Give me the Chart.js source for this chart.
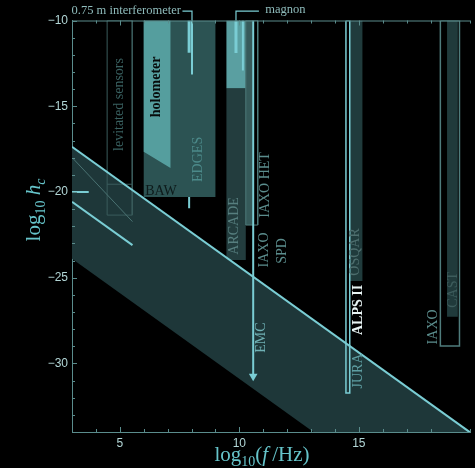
<!DOCTYPE html>
<html>
<head>
<meta charset="utf-8">
<script src="https://cdn.jsdelivr.net/npm/chart.js@4.4.1/dist/chart.umd.min.js"></script>
<style>
  html, body { margin: 0; padding: 0; background: #000; }
  #wrap { width: 475px; height: 468px; }
</style>
</head>
<body>
<div id="wrap"><canvas id="myChart"></canvas></div>
<script>
//Axis ticks (log10 f/Hz and log10 h_c).
const xTicks = [5, 10, 15];
const yTicks = [-10, -15, -20, -25, -30];

//Main sensitivity band (x, y corners).
const bandX = [3, 19.65, 13.1, 3];
const bandY = [-17.37, -34.02, -34, -23.9];
const bandEdgeX = [3, 19.65];
const bandEdgeY = [-17.37, -34.02];

//Experiments drawn as filled regions.
const bawX = [6.0, 9.0];
const bawY = [-10, -20.3];
const holometerX = [6.0, 7.12, 7.12, 6.0];
const holometerY = [-10, -10, -18.6, -17.65];
const arcadeX = [9.46, 10.27];
const arcadeY = [-13.95, -23.97];
const arcadeTopX = [9.46, 10.27];
const arcadeTopY = [-10, -13.95];
const hetStripX = [10.27, 10.56];
const hetStripY = [-10, -21.93];
const osqarX = [14.62, 15.15];
const osqarY = [-10, -25.2];
const castX = [18.69, 19.14];
const castY = [-10, -27.28];

//Experiments drawn as outlines.
const iaxoHetX = [10.27, 10.77];
const iaxoHetY = [-10, -21.93];
const iaxoX = [18.41, 19.21];
const iaxoY = [-10, -28.99];
const levitatedX = [4.47, 5.52];
const levitatedY = [-10, -21.35];
const levitatedBoxY = [-19.55, -19.55];
const alpsX = [14.46, 14.62];
const alpsY = [-10, -31.72];

//Single lines.
const levSlantX = [3.03, 5.53];
const levSlantY = [-18.03, -21.73];
const brightSlantX = [3.0, 5.53];
const brightSlantY = [-20.57, -23.1];
const flatX = [3.0, 3.7];
const flatY = [-20, -20];
const emcX = [10.58, 10.58];
const emcY = [-10, -30.75];
const interfBarX = [7.9, 7.9];
const interfBarY = [-10, -11.88];
const interfThinX = [8.02, 8.02];
const interfThinY = [-10, -13.15];
const interfTailX = [7.9, 7.9];
const interfTailY = [-20.3, -20.95];
const magnonBarX = [9.86, 9.86];
const magnonBarY = [-10, -11.9];
const magnonThinX = [10.15, 10.15];
const magnonThinY = [-10, -12.92];

//Pointer arrows above the frame.
const interfArrowX = [8.02, 8.02, 7.62];
const interfArrowY = [-10, -9.45, -9.45];
const magnonArrowX = [9.86, 9.86, 10.82];
const magnonArrowY = [-10, -9.45, -9.45];

const bright = "#7acdd4";
const axisColor = "#5a8c8c";

function pts(xs, ys) {
  return xs.map((x, i) => ({ x: x, y: ys[i] }));
}

function box(xs, ys) {
  return [
    { x: xs[0], y: ys[0] }, { x: xs[1], y: ys[0] },
    { x: xs[1], y: ys[1] }, { x: xs[0], y: ys[1] }, { x: xs[0], y: ys[0] }
  ];
}

function area(data, color) {
  return { data, showLine: true, fill: "shape", backgroundColor: color,
    borderWidth: 0, borderColor: "rgba(0,0,0,0)", pointRadius: 0 };
}

function stroke(data, color, width, clip) {
  return { data, showLine: true, fill: false, borderColor: color,
    borderWidth: width, pointRadius: 0, clip: clip === false ? false : undefined };
}

//Datasets listed bottom to top.
let layers = [
  area(pts(bandX, bandY), "#1e3739"),
  area(box(bawX, bawY), "#2c5353"),
  area(pts(holometerX, holometerY), "#559e9e"),
  area(box(arcadeX, arcadeY), "#233d3e"),
  area(box(arcadeTopX, arcadeTopY), "#5a9fa1"),
  area(box(hetStripX, hetStripY), "#365a5a"),
  area(box(osqarX, osqarY), "#203b3c"),
  area(box(castX, castY), "#203a3b"),
  stroke(box(iaxoHetX, iaxoHetY), "#4f7c7c", 1),
  stroke(box(iaxoX, iaxoY), "#4f7c7c", 1.5),
  stroke(box(levitatedX, levitatedY), "#3a5c5c", 1),
  stroke(pts(levitatedX, levitatedBoxY), "#3a5c5c", 1),
  stroke(pts(levSlantX, levSlantY), "#4a7272", 1),
  stroke(box(alpsX, alpsY), bright, 1.5),
  stroke(pts(emcX, emcY), bright, 2),
  stroke(pts(interfBarX, interfBarY), bright, 3),
  stroke(pts(interfThinX, interfThinY), bright, 2),
  stroke(pts(interfTailX, interfTailY), bright, 2),
  stroke(pts(magnonBarX, magnonBarY), bright, 3),
  stroke(pts(magnonThinX, magnonThinY), bright, 2),
  stroke(pts(brightSlantX, brightSlantY), bright, 2),
  stroke(pts(flatX, flatY), bright, 2),
  stroke(pts(bandEdgeX, bandEdgeY), bright, 2),
  stroke(pts(interfArrowX, interfArrowY), bright, 1.2, false),
  stroke(pts(magnonArrowX, magnonArrowY), bright, 1.2, false),
  //Arrow heads.
  { data: [{ x: 7.62, y: -9.45 }], pointStyle: "triangle", rotation: -90, pointRadius: 3.5,
    backgroundColor: bright, borderWidth: 0, clip: false },
  { data: [{ x: 10.82, y: -9.45 }], pointStyle: "triangle", rotation: 90, pointRadius: 3.5,
    backgroundColor: bright, borderWidth: 0, clip: false },
  { data: [{ x: 10.58, y: -30.75 }], pointStyle: "triangle", rotation: 180, pointRadius: 5,
    backgroundColor: bright, borderWidth: 0 }
];

//Text labels, rotated ones read bottom to top.
const labels = [
  { t: "levitated sensors", x: 4.98, y: -14.9, c: "#3a6262", rot: true },
  { t: "holometer", x: 6.55, y: -13.87, c: "#070b0b", rot: true, bold: true },
  { t: "EDGES", x: 8.29, y: -18.1, c: "#4c8a8a", rot: true },
  { t: "BAW", x: 6.72, y: -19.96, c: "#0d1a1a" },
  { t: "ARCADE", x: 9.78, y: -21.98, c: "#577f7f", rot: true },
  { t: "IAXO HET", x: 11.1, y: -19.59, c: "#5b8d8d", rot: true },
  { t: "IAXO", x: 11.05, y: -23.38, c: "#5b8d8d", rot: true },
  { t: "SPD", x: 11.8, y: -23.44, c: "#5b8d8d", rot: true },
  { t: "EMC", x: 10.9, y: -28.5, c: "#6fb0b4", rot: true },
  { t: "OSQAR", x: 14.86, y: -23.5, c: "#4e6e6e", rot: true },
  { t: "ALPS II", x: 14.98, y: -26.88, c: "#e8f4f4", rot: true, bold: true },
  { t: "JURA", x: 14.98, y: -30.44, c: "#5e9ea2", rot: true },
  { t: "CAST", x: 18.94, y: -25.71, c: "#3d5c5c", rot: true },
  { t: "IAXO", x: 18.12, y: -27.87, c: "#5b8d8d", rot: true },
  { t: "0.75 m interferometer", x: 5.27, y: -9.45, c: "#8fbcbc", size: 12.5 },
  { t: "magnon", x: 11.93, y: -9.4, c: "#8fbcbc", size: 12.5 }
];

//Draw runs of text with mixed fonts, centred on (cx, cy).
function drawRuns(ctx, runs, cx, cy, rotate) {
  ctx.save();
  ctx.translate(cx, cy);
  if (rotate) ctx.rotate(-Math.PI / 2);
  let total = 0;
  runs.forEach(r => { ctx.font = r.f; total += ctx.measureText(r.t).width; });
  let pos = -total / 2;
  ctx.textBaseline = "alphabetic";
  ctx.textAlign = "left";
  runs.forEach(r => {
    ctx.font = r.f;
    ctx.fillText(r.t, pos, r.dy || 0);
    pos += ctx.measureText(r.t).width;
  });
  ctx.restore();
}

const decorations = {
  id: "decorations",
  afterDraw(chart) {
    const { ctx, chartArea: a, scales: { x, y } } = chart;
    ctx.save();
    //Frame top line and inward ticks.
    ctx.strokeStyle = axisColor;
    ctx.lineWidth = 1;
    ctx.beginPath();
    ctx.moveTo(a.left, a.top + 0.5);
    ctx.lineTo(a.right, a.top + 0.5);
    x.ticks.forEach(t => {
      const px = Math.round(x.getPixelForValue(t.value)) + 0.5;
      const len = t.value % 5 === 0 ? 5 : 3;
      ctx.moveTo(px, a.bottom);
      ctx.lineTo(px, a.bottom - len);
      ctx.moveTo(px, a.top);
      ctx.lineTo(px, a.top + len);
    });
    y.ticks.forEach(t => {
      const py = Math.round(y.getPixelForValue(t.value)) + 0.5;
      const len = t.value % 5 === 0 ? 5 : 3;
      ctx.moveTo(a.left, py);
      ctx.lineTo(a.left + len, py);
    });
    ctx.stroke();

    //Labels.
    labels.forEach(l => {
      const px = x.getPixelForValue(l.x);
      const py = y.getPixelForValue(l.y);
      ctx.save();
      ctx.translate(px, py);
      if (l.rot) ctx.rotate(-Math.PI / 2);
      ctx.fillStyle = l.c;
      ctx.font = (l.bold ? "bold " : "") + (l.size || 14) + "px 'Liberation Serif'";
      ctx.textAlign = "center";
      ctx.textBaseline = "middle";
      ctx.fillText(l.t, 0, 0);
      ctx.restore();
    });

    //Axis titles.
    ctx.fillStyle = "#66c4ca";
    const big = "21px 'Liberation Serif'";
    const bigIt = "italic 21px 'Liberation Serif'";
    const sub = "14px 'Liberation Serif'";
    drawRuns(ctx, [
      { t: "log", f: big }, { t: "10", f: sub, dy: 5 }, { t: "(", f: big },
      { t: "f", f: bigIt }, { t: "\u2009/Hz)", f: big }
    ], 262, 461, false);
    drawRuns(ctx, [
      { t: "log", f: big }, { t: "10", f: sub, dy: 5 }, { t: " ", f: big },
      { t: "h", f: bigIt }, { t: "c", f: "italic 14px 'Liberation Serif'", dy: 5 }
    ], 40, 210, true);
    ctx.restore();
  }
};

let ctx = document.getElementById("myChart").getContext("2d");

let myChart = new Chart(ctx, {
  type: "scatter",
  data: { datasets: layers.slice().reverse() },
  plugins: [decorations],
  options: {
    responsive: true,
    maintainAspectRatio: false,
    animation: false,
    events: [],
    layout: { padding: { top: 20.5, right: 0, left: 0, bottom: 0 } },
    plugins: { legend: { display: false }, tooltip: { enabled: false } },
    scales: {
      x: {
        type: "linear",
        min: 3,
        max: 19.65,
        afterFit: s => { s.height = 36; },
        grid: { display: false, drawTicks: false },
        border: { display: true, color: axisColor, width: 1 },
        ticks: {
          stepSize: 1,
          autoSkip: false,
          maxRotation: 0,
          padding: 4,
          color: "#b2d6d6",
          font: { family: "'Liberation Sans'", size: 12 },
          callback: v => xTicks.includes(v) ? String(v) : ""
        }
      },
      y: {
        type: "linear",
        min: -34,
        max: -10,
        afterFit: s => { s.width = 72; },
        grid: { display: false, drawTicks: false },
        border: { display: true, color: axisColor, width: 1 },
        ticks: {
          stepSize: 1,
          autoSkip: false,
          padding: 4,
          color: "#b2d6d6",
          font: { family: "'Liberation Sans'", size: 12 },
          callback: v => yTicks.includes(v) ? "\u2212" + Math.abs(v) : ""
        }
      }
    }
  }
});
</script>
</body>
</html>
